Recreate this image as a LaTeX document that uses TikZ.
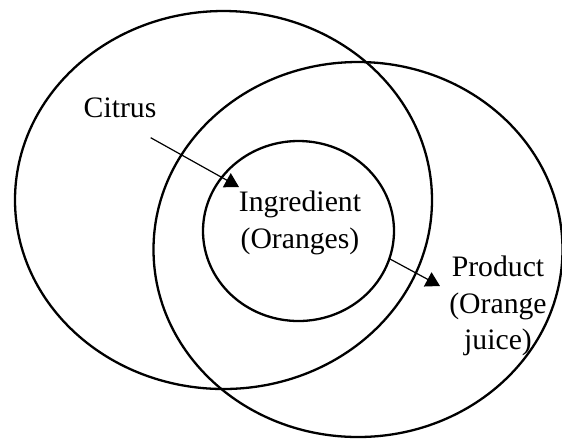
\documentclass[tikz,border=0pt]{standalone}
\usepackage{fontspec}
\setmainfont{Liberation Serif}
\usetikzlibrary{arrows.meta}

\begin{document}
\begin{tikzpicture}[x=0.5pt, y=-0.5pt, >={Triangle[length=7pt, width=8pt]},
  ring/.style={line width=1.15pt},
  link/.style={->, line width=0.6pt},
  lbl/.style={align=center, inner sep=0pt, font=\fontsize{14.85pt}{18.3pt}\selectfont}]
  \useasboundingbox (0,0) rectangle (562,441);
  % ellipses
  \draw[ring] (223.5,200) ellipse [x radius=208.5, y radius=189];
  \draw[ring] (358,249.5) ellipse [x radius=204.5, y radius=187.5];
  \draw[ring] (298.5,231) ellipse [x radius=95.5, y radius=90];
  % labels
  \node[lbl, anchor=base] (citrus) at (120,117.5) {Citrus};
  \node[lbl] (ingr) at (300,223) {Ingredient\\(Oranges)};
  \node[lbl] (prod) at (498,306) {Product\\(Orange\\juice)};
  % arrow ends
  \coordinate (c1) at (150.7,137.7);
  \coordinate (c2) at (239,187);
  \coordinate (p1) at (390,259);
  \coordinate (p2) at (440,286);
  \draw[link] (c1) -- (c2);
  \draw[link] (p1) -- (p2);
\end{tikzpicture}
\end{document}
